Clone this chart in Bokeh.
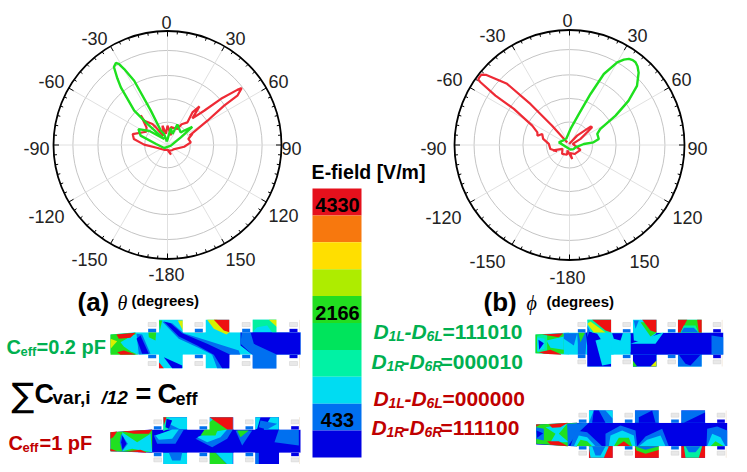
import numpy as np
from bokeh.core.properties import value
from bokeh.embed import file_html
from bokeh.models import Range1d
from bokeh.plotting import figure
from bokeh.resources import INLINE

# polar traces, angle in degrees clockwise from top, radius as a fraction of the outer ring
a_green_angle = [-10, -17, -25, -25.9, -27.4, -29.7, -31, -32.2, -34.5, -37, -39, -44, -43.5, -29, -52, -61.4, -70.7, -85, -132,
                 101, 60, 53.7, 49, 46.5, 25.5, 24.4, 11, -10]
a_green_r = [.03, .10, .14, .335, .635, .767, .83, .85, .83, .73, .65, .42, .25, .06, .20, .29, .25, .10, .04,
             .03, .135, .27, .19, .16, .20, .106, .15, .03]
a_red_angle = [66.7, 58.7, 55.2, 54.8, 52.5, 51.7, 49.2, 46.9, 43, 39.6, 37.4, 41.4, 34.3, 32, 10.7, 20, 0, -8, -14.5, -25, -33.4,
               -35.5, -43.8, -42, -50, -58, -72.6, -79.8, -89, -106.7, -150, 172, 160, 175, 140, 121, 96, 83.5, 73.8, 66, 66.7]
a_red_r = [.21, .41, .605, .75, .82, .78, .62, .44, .32, .44, .36, .265, .22, .165, .16, .09, .17, .10, .175, .09, .185,
           .227, .295, .35, .24, .22, .32, .30, .205, .09, .05, .044, .09, .05, .06, .07, .147, .206, .19, .24, .21]
b_red_angle = [-41, -42, -43.6, -45.6, -50, -51.4, -53.3, -54.4, -54.8, -56.3, -57, -62.6, -68.6, -74, -68, -77, -87, -102, -117, -108, -119, -140,
               -166, -160, 169, 175, 151, 114, 107, 70, 61, 52, 48.9, 39, -20]
b_red_r = [.03, .226, .49, .76, .95, .98, .98, .977, .947, .774, .577, .365, .30, .29, .256, .235, .18, .17, .12, .15, .07, .10,
           .087, .05, .124, .07, .09, .105, .07, .03, .11, .25, .243, .105, .01]
b_green_angle = [-29, 3.6, 16.8, 22.4, 25.8, 30, 32.5, 34.6, 36.7, 38.6, 40.8, 43.7, 48.8, 53.2, 57.5, 62.7, 68.3, 78.4, 83.7, 86, 111, 135, 170, -135, -76, -29]
b_green_r = [.06, .14, .28, .48, .686, .83, .88, .91, .92, .92, .905, .87, .78, .64, .475, .30, .26, .26, .21, .125, .056, .05, .04, .03, .095, .06]

ring_fractions = [.2, .405, .61, .83]
spoke_angles = list(range(0, 360, 30))
angle_labels = ["0", "30", "60", "90", "120", "150", "-180", "-150", "-120", "-90", "-60", "-30"]
a_label_x = [166, 235, 278, 291, 283, 240, 166, 89, 46, 36, 51, 94]
a_label_y = [22, 38, 81, 148, 215, 259, 274, 259, 216, 148, 81, 38]
b_label_x = [567, 637, 681, 697, 687, 644, 567, 487, 443, 433, 449, 492]
b_label_y = [20, 35, 79, 148, 217, 261, 277, 261, 217, 148, 79, 35]

colorbar_colors = ["#e5101c", "#f7780e", "#ffdf00", "#aeec00", "#22dd20", "#00e45c", "#00f2a4", "#00dcf2", "#0070f0", "#0000e2"]
colorbar_ticks = ["4330", "2166", "433"]
colorbar_tick_y = [204, 312, 419]

B, M, C, T, G, Y, O, R = "#0000e6", "#0070f0", "#00dcf5", "#00f0a0", "#20e020", "#d8f000", "#ff9000", "#ee1111"

# field maps at 3x, painted back to front
map1_box = (100, 310, 30, 72, 105, 65, 133, 600, 28, 173, [175, 315, 456], [143, 283, 425, 567], 24, C)
map1_layers = [
    (B, [(420, 65), (600, 65), (600, 133), (530, 133), (530, 173), (456, 173), (456, 133), (420, 105)]),
    (M, [(425, 55), (447, 55), (460, 100), (530, 133), (530, 173), (456, 173), (456, 133), (420, 100)]),
    (M, [(185, 33), (215, 38), (250, 68), (320, 90), (415, 120), (420, 135), (387, 140), (387, 173), (350, 173), (335, 133), (300, 115), (235, 85)]),
    (B, [(190, 33), (210, 38), (245, 68), (320, 100), (390, 133), (387, 173), (365, 173), (340, 133), (290, 105), (235, 78)]),
    (G, [(30, 72), (105, 67), (112, 133), (30, 133)]),
    (C, [(60, 95), (95, 75), (112, 70), (112, 133), (90, 122), (70, 108)]),
    (Y, [(30, 85), (50, 92), (30, 115)]),
    (R, [(48, 72), (105, 67), (90, 82), (55, 85)]),
    (R, [(50, 125), (70, 120), (105, 132), (60, 133)]),
    (M, [(108, 70), (125, 72), (150, 130), (115, 133)]),
    (B, [(108, 85), (120, 75), (145, 130), (125, 130)]),
    (G, [(143, 55), (168, 55), (165, 90), (145, 80)]),
    (Y, [(320, 28), (350, 28), (390, 62), (378, 72), (340, 55)]),
    (R, [(340, 28), (387, 28), (387, 65), (370, 60)]),
    (T, [(456, 28), (530, 28), (530, 65), (515, 65), (500, 45), (470, 50), (456, 65)]),
    (Y, [(505, 28), (530, 28), (530, 50)]),
    (G, [(175, 30), (185, 30), (178, 60)]),
    (Y, [(232, 30), (247, 30), (247, 60)]),
    (R, [(283, 55), (307, 55), (307, 65), (283, 65)]),
    (R, [(175, 155), (190, 173), (175, 173)]),
    (B, [(190, 140), (245, 165), (245, 173), (215, 173)]),
]
map2_box = (100, 410, 30, 65, 155, 57, 127, 600, 20, 162, [188, 327, 464], [160, 297, 435, 572], 23, B)
map2_layers = [
    (G, [(30, 65), (155, 58), (155, 125), (30, 122)]),
    (C, [(65, 65), (110, 95), (150, 70), (155, 125), (95, 115), (65, 122)]),
    (M, [(62, 70), (82, 100), (65, 122), (58, 95)]),
    (B, [(66, 75), (78, 100), (66, 118), (62, 95)]),
    (R, [(65, 62), (155, 58), (145, 70), (100, 70)]),
    (R, [(30, 65), (50, 63), (38, 80), (30, 85)]),
    (R, [(30, 115), (50, 122), (30, 122)]),
    (R, [(80, 122), (120, 118), (140, 127)]),
    (C, [(188, 20), (260, 20), (260, 57), (188, 57)]),
    (M, [(205, 40), (240, 57), (205, 57)]),
    (M, [(160, 75), (230, 57), (250, 57), (225, 100), (170, 100)]),
    (C, [(165, 75), (215, 57), (235, 57), (215, 85), (175, 88)]),
    (T, [(188, 20), (205, 20), (205, 55), (188, 62)]),
    (B, [(198, 25), (215, 30), (205, 55), (195, 50)]),
    (R, [(188, 20), (198, 20), (190, 45)]),
    (M, [(285, 85), (345, 57), (397, 57), (380, 85), (335, 110)]),
    (C, [(290, 80), (340, 57), (380, 57), (360, 80), (320, 95)]),
    (C, [(327, 20), (397, 20), (397, 57), (327, 57)]),
    (G, [(327, 35), (345, 20), (380, 57), (350, 62), (345, 75), (300, 75)]),
    (R, [(327, 20), (397, 20), (397, 57), (380, 57)]),
    (M, [(405, 60), (455, 60), (425, 105)]),
    (G, [(410, 60), (445, 60), (420, 80)]),
    (M, [(522, 95), (535, 57), (595, 57), (595, 105)]),
    (C, [(464, 20), (480, 20), (470, 55), (464, 57)]),
    (C, [(510, 20), (535, 20), (535, 57), (490, 57)]),
    (M, [(480, 30), (530, 40), (500, 57), (475, 50)]),
    (C, [(188, 127), (260, 127), (260, 162), (188, 162)]),
    (M, [(205, 127), (245, 127), (240, 150), (215, 150)]),
    (C, [(345, 127), (397, 127), (397, 162), (380, 162)]),
    (G, [(327, 127), (345, 127), (380, 162), (327, 162)]),
    (M, [(464, 127), (475, 127), (475, 162), (464, 162)]),
]
map3_box = (530, 310, 15, 72, 115, 66, 133, 578, 28, 168, [170, 307, 442], [142, 277, 412, 548], 23, C)
map3_layers = [
    (G, [(15, 72), (100, 70), (100, 130), (15, 128)]),
    (C, [(48, 90), (100, 78), (100, 118), (60, 112)]),
    (T, [(20, 75), (50, 72), (50, 125), (20, 125)]),
    (C, [(20, 80), (42, 85), (42, 115), (20, 122)]),
    (B, [(24, 88), (40, 98), (26, 118)]),
    (R, [(35, 72), (98, 68), (85, 80)]),
    (R, [(25, 125), (60, 118), (95, 133), (40, 130)]),
    (M, [(100, 68), (140, 68), (130, 105), (100, 85)]),
    (M, [(140, 68), (170, 60), (165, 133), (142, 140), (142, 100)]),
    (G, [(150, 95), (163, 68), (150, 58), (142, 58)]),
    (B, [(165, 60), (200, 70), (240, 130), (243, 168), (170, 168), (170, 105)]),
    (C, [(195, 90), (215, 85), (250, 133), (243, 160), (215, 165)]),
    (B, [(300, 68), (578, 66), (578, 133), (300, 133)]),
    (C, [(243, 72), (300, 72), (300, 125), (240, 105)]),
    (B, [(245, 68), (277, 68), (270, 90), (250, 85)]),
    (C, [(300, 100), (400, 65), (375, 100)]),
    (M, [(543, 75), (578, 80), (578, 133), (543, 133)]),
    (T, [(170, 28), (243, 28), (243, 66), (185, 66)]),
    (Y, [(170, 40), (180, 33), (225, 66), (190, 66)]),
    (R, [(185, 28), (243, 28), (243, 66), (225, 60)]),
    (M, [(170, 45), (178, 60), (170, 80)]),
    (C, [(307, 40), (330, 28), (378, 70), (340, 95), (310, 90)]),
    (G, [(330, 35), (345, 35), (378, 66), (360, 78)]),
    (R, [(335, 28), (378, 28), (378, 66), (360, 60)]),
    (M, [(310, 30), (325, 30), (315, 55)]),
    (G, [(442, 28), (514, 28), (514, 66), (442, 66)]),
    (R, [(470, 28), (442, 28), (442, 66), (450, 66)]),
    (R, [(500, 28), (514, 28), (514, 66), (505, 66)]),
    (T, [(460, 45), (495, 45), (504, 66), (450, 66)]),
    (M, [(452, 66), (504, 66), (490, 52), (460, 52)]),
    (M, [(442, 133), (514, 133), (514, 168), (442, 168)]),
    (B, [(445, 133), (510, 133), (480, 165), (465, 160)]),
    (B, [(307, 133), (378, 133), (378, 168), (307, 168)]),
    (G, [(307, 150), (320, 168), (307, 168)]),
    (Y, [(360, 168), (378, 150), (378, 168)]),
]
map4_box = (530, 400, 17, 72, 140, 67, 137, 590, 30, 172, [175, 313, 452], [145, 283, 422, 560], 23, B)
map4_layers = [
    (G, [(17, 72), (140, 67), (112, 137), (17, 130)]),
    (C, [(45, 80), (110, 70), (85, 100), (115, 125), (60, 125), (75, 100)]),
    (M, [(17, 80), (40, 85), (40, 120), (17, 115)]),
    (B, [(18, 90), (38, 98), (20, 112)]),
    (M, [(110, 70), (175, 67), (140, 100), (112, 137)]),
    (R, [(55, 72), (112, 67), (90, 80), (65, 82)]),
    (R, [(50, 122), (85, 122), (112, 137), (60, 133)]),
    (R, [(17, 72), (30, 72), (17, 78)]),
    (M, [(120, 137), (135, 90), (170, 95), (215, 137)]),
    (C, [(130, 137), (145, 105), (170, 110), (195, 137)]),
    (G, [(138, 137), (150, 118), (170, 122), (185, 137)]),
    (M, [(225, 137), (225, 100), (270, 75), (315, 90), (320, 137)]),
    (C, [(235, 137), (240, 105), (275, 90), (310, 105), (315, 137)]),
    (G, [(250, 137), (265, 112), (295, 112), (305, 137)]),
    (R, [(258, 137), (280, 122), (300, 137)]),
    (M, [(320, 137), (345, 108), (395, 85), (415, 137)]),
    (C, [(325, 137), (350, 118), (390, 105), (405, 137)]),
    (M, [(528, 137), (530, 85), (560, 78), (590, 90), (590, 137)]),
    (C, [(530, 137), (545, 100), (570, 110), (585, 137)]),
    (G, [(540, 137), (555, 122), (580, 137)]),
    (C, [(175, 30), (247, 30), (247, 67), (175, 67)]),
    (M, [(190, 30), (225, 30), (247, 55), (247, 67), (175, 67)]),
    (B, [(190, 30), (205, 30), (225, 67), (185, 67)]),
    (M, [(313, 30), (387, 30), (387, 67), (313, 67)]),
    (B, [(325, 50), (365, 30), (375, 67), (325, 67)]),
    (M, [(452, 30), (525, 30), (525, 67), (452, 67)]),
    (B, [(460, 67), (525, 35), (525, 67)]),
    (R, [(175, 137), (247, 137), (247, 172), (175, 172)]),
    (C, [(175, 137), (235, 137), (220, 172), (180, 172)]),
    (M, [(185, 137), (225, 137), (210, 165), (195, 165)]),
    (R, [(313, 137), (387, 137), (387, 172), (313, 172)]),
    (G, [(313, 137), (387, 137), (387, 148), (345, 160), (318, 150)]),
    (M, [(313, 137), (387, 137), (345, 148)]),
    (R, [(452, 137), (525, 137), (525, 172), (452, 172)]),
    (T, [(460, 137), (515, 137), (505, 172), (465, 172)]),
    (M, [(465, 137), (510, 137), (495, 155), (475, 155)]),
]

p = figure(width=739, height=464, output_backend="svg", toolbar_location=None,
           x_range=Range1d(0, 739), y_range=Range1d(464, 0),
           x_axis_location=None, y_axis_location=None, min_border=0)
p.grid.visible = False
p.outline_line_color = None
p.background_fill_color = "white"


def label(x, y, txt, size, style="bold", color="black", align="left", font="Liberation Sans"):
    p.text([x], [y], text=[txt], text_font=value(font), text_font_size=f"{size}px", text_font_style=style,
           text_color=color, text_align=align, text_baseline="middle")


def polar(cx, cy, radius, angle, r):
    a = np.radians(np.array(angle, dtype=float))
    r = np.array(r, dtype=float)
    return cx + radius * r * np.sin(a), cy - radius * r * np.cos(a)


def polar_axes(cx, cy, radius, label_x, label_y):
    for f in ring_fractions:
        p.circle([cx], [cy], radius=radius * f, fill_color=None, line_color="#bdbdbd", line_width=0.9)
    for a in spoke_angles:
        x, y = polar(cx, cy, radius, [a], [1])
        p.line([cx, x[0]], [cy, y[0]], line_color="#dcdcdc", line_width=0.9)
    p.circle([cx], [cy], radius=radius, fill_color=None, line_color="black", line_width=1.8)
    for a in range(0, 360, 5):
        tick = 5.5 if a % 30 == 0 else 3
        x0, y0 = polar(cx, cy, radius, [a], [1])
        x1, y1 = polar(cx, cy, radius - tick, [a], [1])
        p.line([x0[0], x1[0]], [y0[0], y1[0]], line_color="black", line_width=1)
    for txt, x, y in zip(angle_labels, label_x, label_y):
        label(x, y, txt, 18, style="normal", color="#222222", align="center")


def field_map(box, layers):
    ox, oy, x0, y0, x1, y1, yb, xe, ytop, ybot, big, small, sw, base = box
    sx = lambda v: ox + v / 3
    sy = lambda v: oy + v / 3
    sw_big = 72
    # silhouette and stubs in the base colour
    xs = [x0, x1, xe, xe, x1, x0]
    ys = [y0, y1, y1, yb, yb, yb - 5]
    p.patch([sx(v) for v in xs], [sy(v) for v in ys], fill_color=base, line_color=None)
    for b in big:
        p.quad(left=sx(b), right=sx(b + sw_big), top=sy(ytop), bottom=sy(ybot), fill_color=base, line_color=None)
    for color, pts in layers:
        p.patch([sx(q[0]) for q in pts], [sy(q[1]) for q in pts], fill_color=color, line_color=None)
    # white mask between stubs, so the layers keep to the outline
    edges = [x1, big[0], big[0] + sw_big, big[1], big[1] + sw_big, big[2], big[2] + sw_big, xe + 8]
    for g0, g1 in zip(edges[::2], edges[1::2]):
        p.quad(left=sx(g0), right=sx(g1), top=sy(ytop - 3), bottom=sy(y1), fill_color="white", line_color=None)
        p.quad(left=sx(g0), right=sx(g1), top=sy(yb), bottom=sy(ybot + 3), fill_color="white", line_color=None)
    for i, s in enumerate(small):
        stub = B if i == 3 else M
        p.quad(left=sx(s), right=sx(s + sw), top=sy(y1 - 10), bottom=sy(y1), fill_color=stub, line_color=None)
        p.quad(left=sx(s), right=sx(s + sw), top=sy(yb), bottom=sy(yb + 10), fill_color=stub, line_color=None)
        # capacitors
        for gy in (ytop + 8, ybot - 20):
            p.quad(left=sx(s), right=sx(s + sw), top=sy(gy), bottom=sy(gy + 12), fill_color="#e8e8e8",
                   line_color="#cfcfcf", line_width=0.5)
    p.line([sx(xe - 3), sx(xe - 3)], [sy(ytop), sy(y1)], line_color="#f0e6d8", line_width=0.8)
    p.line([sx(xe - 3), sx(xe - 3)], [sy(yb), sy(ybot)], line_color="#f0e6d8", line_width=0.8)


polar_axes(167, 144.5, 114, a_label_x, a_label_y)
polar_axes(569, 144.5, 115, b_label_x, b_label_y)
x, y = polar(167, 144.5, 114, a_red_angle, a_red_r)
p.line(x, y, line_color="#ee2a35", line_width=2.2)
x, y = polar(167, 144.5, 114, a_green_angle, a_green_r)
p.line(x, y, line_color="#1ee01e", line_width=2.4)
x, y = polar(569, 144.5, 115, b_red_angle, b_red_r)
p.line(x, y, line_color="#ee2a35", line_width=2.2)
x, y = polar(569, 144.5, 115, b_green_angle, b_green_r)
p.line(x, y, line_color="#1ee01e", line_width=2.4)

label(77, 301, "(a)", 26)
label(117, 302, "θ", 20, style="italic", font="Liberation Serif")
label(131, 300, "(degrees)", 15)
label(483, 301, "(b)", 26)
label(526, 302, "ϕ", 20, style="italic", font="Liberation Serif")
label(546, 301, "(degrees)", 15)

# colour bar
n = len(colorbar_colors)
step = (457 - 188) / n
p.quad(left=312, right=361, top=[188 + i * step for i in range(n)], bottom=[188 + (i + 1) * step for i in range(n)],
       fill_color=colorbar_colors, line_color=None)
label(368, 171, "E-field [V/m]", 19.5, align="center")
for txt, y_pos in zip(colorbar_ticks, colorbar_tick_y):
    label(337, y_pos, txt, 20, align="center")

field_map(map1_box, map1_layers)
field_map(map2_box, map2_layers)
field_map(map3_box, map3_layers)
field_map(map4_box, map4_layers)

green, red = "#00b050", "#c00000"
label(6, 346, "C", 20, color=green)
label(20, 351, "eff", 13, color=green)
label(36, 346, "=0.2 pF", 20, color=green)
label(8, 442, "C", 20, color=red)
label(22, 447, "eff", 13, color=red)
label(39, 442, "=1 pF", 20, color=red)

label(11, 394, "∑", 34, style="normal", font="DejaVu Sans")
label(34, 393, "C", 27)
label(52, 397, "var,i", 19)
label(101, 397, "/12", 19, style="bold italic")
label(135, 393, "=", 27)
label(157, 393, "C", 27)
label(175, 398, "eff", 18)


def d_line(x, y, left, right, bits, color):
    label(x, y, "D", 21, style="bold italic", color=color)
    label(x + 15, y + 4, left, 14, style="bold italic", color=color)
    label(x + 31, y, "-", 21, style="bold italic", color=color)
    label(x + 38, y, "D", 21, style="bold italic", color=color)
    label(x + 53, y + 4, right, 14, style="bold italic", color=color)
    label(x + 69, y, "=" + bits, 21, color=color)


d_line(373, 331, "1L", "6L", "111010", green)
d_line(371, 361, "1R", "6R", "000010", green)
d_line(373, 398, "1L", "6L", "000000", red)
d_line(371, 427, "1R", "6R", "111100", red)

open("out.html", "w").write(file_html(p, INLINE))
